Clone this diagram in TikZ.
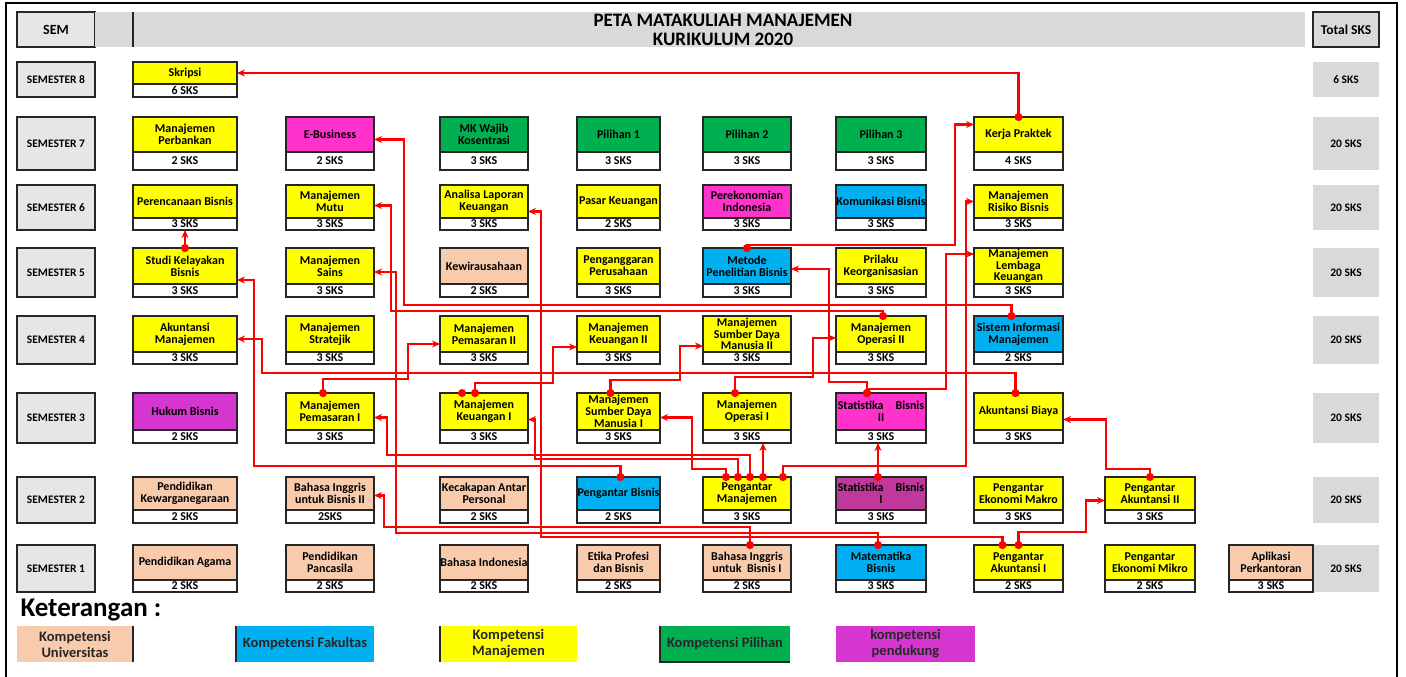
\documentclass[tikz,border=0pt]{standalone}
\usepackage{fontspec}
\setmainfont{Carlito}
\usetikzlibrary{arrows.meta,calc}
\definecolor{yel}{HTML}{FFFF00}
\definecolor{grn}{HTML}{00B050}
\definecolor{blu}{HTML}{00B0F0}
\definecolor{pch}{HTML}{F8CBAD}
\definecolor{pnk}{HTML}{FF33CC}
\definecolor{ung}{HTML}{D635CF}
\definecolor{ungtua}{HTML}{C0399A}
\definecolor{abu}{HTML}{E7E6E6}
\definecolor{abutua}{HTML}{D9D9D9}
\definecolor{garis}{HTML}{262626}
\tikzset{
  mkbox/.style={draw=garis,line width=1.5pt,outer sep=0pt,inner sep=0.3pt,align=center,
    font=\fontsize{12}{11.8}\selectfont\bfseries},
  sksbox/.style={mkbox,fill=white},
  sembox/.style={draw=garis,line width=1.5pt,fill=abu,minimum width=78,outer sep=0pt,
    anchor=north west,font=\fontsize{11.5}{13}\selectfont\bfseries},
  totbox/.style={fill=abutua,minimum width=66,outer sep=0pt,anchor=north west,
    font=\fontsize{11.5}{13}\selectfont\bfseries},
  legbox/.style={minimum height=36,anchor=north west,outer sep=0pt,align=center,
    font=\fontsize{14.5}{16}\selectfont\bfseries,text=black!85},
  link/.style={red,line width=2.2pt,shorten <=-4pt,
    {Circle[length=8pt]}-{Stealth[length=8pt,width=7pt]}}
}
\newcommand{\matkul}[6]{%
  \pgfmathsetmacro\mkl{{133,286,440,577,703,836,974,1105,1229}[#2-1]}%
  \pgfmathsetmacro\mkr{{237,374,528,660,791,926,1063,1195,1313}[#2-1]}%
  \pgfmathsetmacro\mkt{{545,477,393,316,248,185,117,62}[#3-1]}%
  \pgfmathsetmacro\mkm{{580,510,430,352,284,218,152,84}[#3-1]}%
  \pgfmathsetmacro\mkb{{592,523,443,364,297,230,170,97}[#3-1]}%
  \node[mkbox,fill=#4,minimum width=\mkr-\mkl,minimum height=\mkm-\mkt,anchor=north west] (#1) at (\mkl,\mkt) {#5};
  \node[sksbox,minimum width=\mkr-\mkl,minimum height=\mkb-\mkm,anchor=north west] (#1s) at (\mkl,\mkm) {#6};
}
\newcommand{\semrow}[4]{%
  \node[sembox,minimum height=#3-#2] (sem#1) at (17,#2) {SEMESTER #1};
  \node[totbox,minimum height=#3-#2] (tot#1) at (1313,#2) {#4};
}
\begin{document}
\begin{tikzpicture}[x=1pt,y=-1pt]
\useasboundingbox (0,0) rectangle (1406,677);
\draw[black,line width=1.5pt] (6,677) -- (6,3) -- (1397,3) -- (1397,677);
\node[sembox,minimum height=35,font=\fontsize{14}{16}\selectfont\bfseries] (sem) at (17,12) {SEM};
\fill[abutua] (95,12) rectangle (1305,47);
\draw[garis,line width=1.2pt] (133,12) -- (133,47);
\node[align=center,font=\fontsize{19}{19}\selectfont\bfseries] (judul) at (723,29.5) {PETA MATAKULIAH MANAJEMEN\\KURIKULUM 2020};
\node[totbox,draw=garis,line width=1.5pt,minimum height=35,font=\fontsize{13.5}{15}\selectfont\bfseries] (total) at (1313,12) {Total SKS};

\semrow{8}{62}{97}{6 SKS}
\semrow{7}{117}{170}{20 SKS}
\semrow{6}{185}{230}{20 SKS}
\semrow{5}{248}{297}{20 SKS}
\semrow{4}{316}{364}{20 SKS}
\semrow{3}{393}{443}{20 SKS}
\semrow{2}{477}{523}{20 SKS}
\semrow{1}{545}{592}{20 SKS}

\matkul{skripsi}{1}{8}{yel}{Skripsi}{6 SKS}
\matkul{perbankan}{1}{7}{yel}{Manajemen\\Perbankan}{2 SKS}
\matkul{ebis}{2}{7}{pnk}{E-Business}{2 SKS}
\matkul{wajib}{3}{7}{grn}{MK Wajib\\Kosentrasi}{3 SKS}
\matkul{pil1}{4}{7}{grn}{Pilihan 1}{3 SKS}
\matkul{pil2}{5}{7}{grn}{Pilihan 2}{3 SKS}
\matkul{pil3}{6}{7}{grn}{Pilihan 3}{3 SKS}
\matkul{kp}{7}{7}{yel}{Kerja Praktek}{4 SKS}
\matkul{renbis}{1}{6}{yel}{Perencanaan Bisnis}{3 SKS}
\matkul{mutu}{2}{6}{yel}{Manajemen\\Mutu}{3 SKS}
\matkul{alk}{3}{6}{yel}{Analisa Laporan\\Keuangan}{3 SKS}
\matkul{pasar}{4}{6}{yel}{Pasar Keuangan}{2 SKS}
\matkul{ekoind}{5}{6}{pnk}{Perekonomian\\Indonesia}{3 SKS}
\matkul{kombis}{6}{6}{blu}{Komunikasi Bisnis}{3 SKS}
\matkul{risiko}{7}{6}{yel}{Manajemen\\Risiko Bisnis}{3 SKS}
\matkul{skb}{1}{5}{yel}{Studi Kelayakan\\Bisnis}{3 SKS}
\matkul{sains}{2}{5}{yel}{Manajemen\\Sains}{3 SKS}
\matkul{kwu}{3}{5}{pch}{Kewirausahaan}{2 SKS}
\matkul{anggaran}{4}{5}{yel}{Penganggaran\\Perusahaan}{3 SKS}
\matkul{metode}{5}{5}{blu}{Metode\\Penelitian Bisnis}{3 SKS}
\matkul{prilaku}{6}{5}{yel}{Prilaku\\Keorganisasian}{3 SKS}
\matkul{lembaga}{7}{5}{yel}{Manajemen\\Lembaga\\Keuangan}{3 SKS}
\matkul{akman}{1}{4}{yel}{Akuntansi\\Manajemen}{3 SKS}
\matkul{strat}{2}{4}{yel}{Manajemen\\Stratejik}{3 SKS}
\matkul{pem2}{3}{4}{yel}{Manajemen\\Pemasaran II}{3 SKS}
\matkul{keu2}{4}{4}{yel}{Manajemen\\Keuangan II}{3 SKS}
\matkul{sdm2}{5}{4}{yel}{Manajemen\\Sumber Daya\\Manusia II}{3 SKS}
\matkul{ops2}{6}{4}{yel}{Manajemen\\Operasi II}{3 SKS}
\matkul{sim}{7}{4}{blu}{Sistem Informasi\\Manajemen}{2 SKS}
\matkul{hukum}{1}{3}{ung}{Hukum Bisnis}{2 SKS}
\matkul{pem1}{2}{3}{yel}{Manajemen\\Pemasaran I}{3 SKS}
\matkul{keu1}{3}{3}{yel}{Manajemen\\Keuangan I}{3 SKS}
\matkul{sdm1}{4}{3}{yel}{Manajemen\\Sumber Daya\\Manusia I}{3 SKS}
\matkul{ops1}{5}{3}{yel}{Manajemen\\Operasi I}{3 SKS}
\matkul{stat2}{6}{3}{pnk}{Statistika\quad Bisnis\\II}{3 SKS}
\matkul{akbiaya}{7}{3}{yel}{Akuntansi Biaya}{3 SKS}
\matkul{kwn}{1}{2}{pch}{Pendidikan\\Kewarganegaraan}{2 SKS}
\matkul{big2}{2}{2}{pch}{Bahasa Inggris\\untuk Bisnis II}{2SKS}
\matkul{kap}{3}{2}{pch}{Kecakapan Antar\\Personal}{2 SKS}
\matkul{pbis}{4}{2}{blu}{Pengantar Bisnis}{2 SKS}
\matkul{pman}{5}{2}{yel}{Pengantar\\Manajemen}{3 SKS}
\matkul{stat1}{6}{2}{ungtua}{Statistika\quad Bisnis\\I}{3 SKS}
\matkul{makro}{7}{2}{yel}{Pengantar\\Ekonomi Makro}{3 SKS}
\matkul{pak2}{8}{2}{yel}{Pengantar\\Akuntansi II}{3 SKS}
\matkul{agama}{1}{1}{pch}{Pendidikan Agama}{2 SKS}
\matkul{pancasila}{2}{1}{pch}{Pendidikan\\Pancasila}{2 SKS}
\matkul{bindo}{3}{1}{pch}{Bahasa Indonesia}{2 SKS}
\matkul{etika}{4}{1}{pch}{Etika Profesi\\dan Bisnis}{2 SKS}
\matkul{big1}{5}{1}{pch}{Bahasa Inggris\\untuk~ Bisnis I}{2 SKS}
\matkul{matbis}{6}{1}{blu}{Matematika\\Bisnis}{3 SKS}
\matkul{pak1}{7}{1}{yel}{Pengantar\\Akuntansi I}{2 SKS}
\matkul{mikro}{8}{1}{yel}{Pengantar\\Ekonomi Mikro}{2 SKS}
\matkul{aplikasi}{9}{1}{pch}{Aplikasi\\Perkantoran}{3 SKS}

\draw[link] (kp.north) |- (skripsi.east);
\draw[link] (skb.north) -- (renbiss.south);
\draw[link] (metode.north) -- ++(0,-3) -| ($(kp.west)+(-19,-10)$) -- ($(kp.west)+(0,-10)$);
\draw[link] ($(pman.north)+(36,0)$) -- ++(0,-11) -| ($(risiko.west)+(-8,0)$) -- (risiko.west);
\draw[link] ($(stat2.north)+(-14,0)$) -- ++(0,-4) -| ($(lembaga.west)+(-28,-12)$) -- ($(lembaga.west)+(0,-12)$);
\draw[link] ($(stat2.north)+(-14,0)$) -- ++(0,-11) -| ($(metode.east)+(38,3)$) -- ($(metode.east)+(0,3)$);
\draw[link] ($(sim.north)+(-7,0)$) -- ++(0,-11) -| ($(ebis.east)+(30,5)$) -- ($(ebis.east)+(0,5)$);
\draw[link] ($(ops2.north)+(2,0)$) -- ++(0,-5) -| ($(mutu.east)+(17,4)$) -- ($(mutu.east)+(0,4)$);
\draw[link] ($(matbis.north)+(-3,0)$) -- ++(0,-12) -| ($(sains.east)+(22,6)$) -- ($(sains.east)+(0,6)$);
\draw[link] ($(big1.north)+(3,0)$) -- ++(0,-18) -| ($(big2.east)+(10,2)$) -- ($(big2.east)+(0,2)$);
\draw[link] ($(pak1.north)+(-16,0)$) -- ++(0,-8) -| ($(alk.east)+(13,10)$) -- ($(alk.east)+(0,10)$);
\draw[link] (pak1.north) -- ++(0,-13) -| ($(pak2.west)+(-19,7)$) -- ($(pak2.west)+(0,7)$);
\draw[link] (pak2.north) -- ++(0,-8) -| ($(akbiaya.east)+(43,8)$) -- ($(akbiaya.east)+(0,8)$);
\draw[link] ($(akbiaya.north)+(-3,0)$) -- ++(0,-20) -| ($(akman.east)+(25,5)$) -- ($(akman.east)+(0,5)$);
\draw[link] ($(pem1.north)+(-7,0)$) -- ++(0,-14) -| ($(pem2.west)+(-32,10)$) -- ($(pem2.west)+(0,10)$);
\draw[link] ($(keu1.north)+(-9,0)$) -- ++(0,-10) -| ($(keu2.west)+(-24,13)$) -- ($(keu2.west)+(0,13)$);
\fill[red] ($(keu1.north)+(-22,0)$) circle (4);
\draw[link] ($(sdm1.north)+(-8,0)$) -- ++(0,-13) -| ($(sdm2.west)+(-23,12)$) -- ($(sdm2.west)+(0,12)$);
\draw[link] ($(ops1.north)+(-12,0)$) -- ++(0,-16) -| ($(ops2.west)+(-23,4)$) -- ($(ops2.west)+(0,4)$);
\draw[link] ($(pbis.north)+(2,0)$) -- ++(0,-11) -| ($(skb.east)+(17,14)$) -- ($(skb.east)+(0,14)$);
\draw[link] ($(pman.north)+(-21,0)$) -- ++(0,-8) -| ($(sdm1.east)+(32,6)$) -- ($(sdm1.east)+(0,6)$);
\draw[link] ($(pman.north)+(-9,0)$) -- ++(0,-18) -| ($(keu1.east)+(7,8)$) -- ($(keu1.east)+(0,8)$);
\draw[link] ($(pman.north)+(3,0)$) -- ++(0,-22) -| ($(pem1.east)+(13,6)$) -- ($(pem1.east)+(0,6)$);
\draw[link] ($(pman.north)+(16,0)$) -- ($(ops1s.south)+(16,0)$);
\draw[link] ($(stat1.north)+(-3,0)$) -- ($(stat2s.south)+(-3,0)$);

\node[anchor=west,font=\fontsize{27}{30}\selectfont\bfseries] (ket) at (17,610) {Keterangan :};
\node[legbox,fill=pch,minimum width=116] (lg1) at (17,626) {Kompetensi\\Universitas};
\node[legbox,fill=blu,minimum width=138] (lg2) at (236,626) {Kompetensi Fakultas};
\node[legbox,fill=yel,minimum width=137] (lg3) at (440,626) {Kompetensi\\Manajemen};
\node[legbox,fill=grn,minimum width=130] (lg4) at (660,626) {Kompetensi Pilihan};
\node[legbox,fill=ung,minimum width=139] (lg5) at (836,626) {kompetensi\\pendukung};
\draw[garis,line width=1.2pt] (lg1.north east) -- (lg1.south east);
\draw[garis,line width=1.2pt] (lg2.north west) -- (lg2.south west);
\draw[garis,line width=1.2pt] (lg3.north west) -- (lg3.south west);
\draw[garis,line width=1.2pt] (lg4.north west) -- (lg4.south west) -- (lg4.south east);
\end{tikzpicture}
\end{document}
